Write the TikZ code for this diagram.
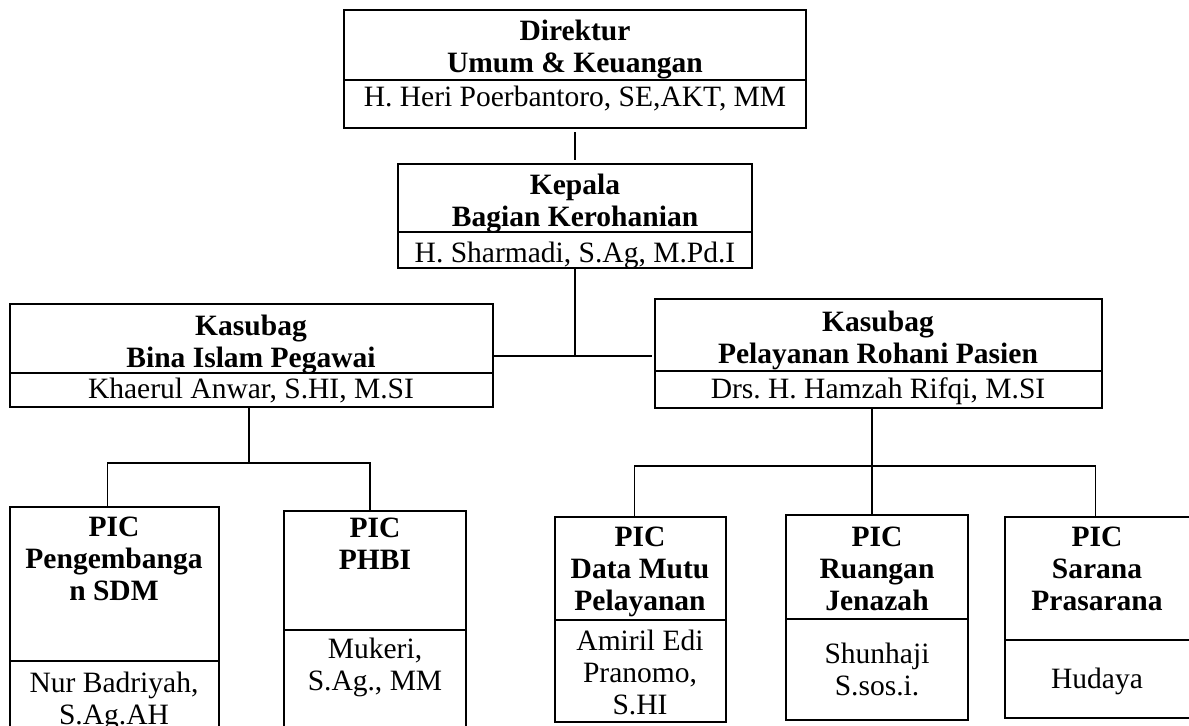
\documentclass[tikz,border=0pt]{standalone}
\usepackage{fontspec}
\setmainfont{Liberation Serif}
\usetikzlibrary{calc,fit}
\newcommand{\pxsize}{0.02}
\newcommand{\orgcell}[5]{\node[cell, fit={(#2,#3) (#4,#5)}] (#1) {};}

\tikzset{
  cell/.style={draw, line width=1.2pt, inner sep=0pt, outer sep=0pt},
  head/.style={font=\fontsize{16.8}{18.2}\selectfont\bfseries, align=center, inner sep=0pt, anchor=north},
  who/.style={font=\fontsize{16.8}{18.2}\selectfont, align=center, inner sep=0pt, anchor=north},
  link/.style={line width=0.8pt},
}

\begin{document}
\begin{tikzpicture}[x=\pxsize cm, y=-\pxsize cm]
  \useasboundingbox (0,0) rectangle (1189,725);
  \clip (0,0) rectangle (1189,725);

  % direktur + kepala
  \orgcell{dir}{344}{10}{806}{80}
  \orgcell{dirp}{344}{80}{806}{128}
  \node[head] (dirT) at (575,20) {Direktur\\Umum \& Keuangan};
  \node[who] (dirN) at (575,86) {H. Heri Poerbantoro, SE,AKT, MM};

  \orgcell{kep}{398}{164}{752}{232}
  \orgcell{kepp}{398}{232}{752}{268}
  \node[head] (kepT) at (575,174) {Kepala\\Bagian Kerohanian};
  \node[who] (kepN) at (575,242) {H. Sharmadi, S.Ag, M.Pd.I};

  % kasubag
  \orgcell{bina}{10}{304}{493}{373}
  \orgcell{binap}{10}{373}{493}{407}
  \node[head] (binaT) at (251,315) {Kasubag\\Bina Islam Pegawai};
  \node[who] (binaN) at (251,378) {Khaerul Anwar, S.HI, M.SI};

  \orgcell{pel}{655}{299}{1102}{371}
  \orgcell{pelp}{655}{371}{1102}{408}
  \node[head] (pelT) at (878,311) {Kasubag\\Pelayanan Rohani Pasien};
  \node[who] (pelN) at (878,377) {Drs.\ H. Hamzah Rifqi, M.SI};

  % PIC
  \orgcell{sdm}{10}{507}{219}{661}
  \orgcell{sdmp}{10}{661}{219}{740}
  \node[head] (sdmT) at (114,517) {PIC\\Pengembanga\\n SDM};
  \node[who] (sdmN) at (114,672) {Nur Badriyah,\\S.Ag.AH};

  \orgcell{phbi}{284}{511}{466}{630}
  \orgcell{phbip}{284}{630}{466}{740}
  \node[head] (phbiT) at (375,518) {PIC\\PHBI};
  \node[who] (phbiN) at (375,638) {Mukeri,\\S.Ag., MM};

  \orgcell{mutu}{555}{517}{726}{620}
  \orgcell{mutup}{555}{620}{726}{722}
  \node[head] (mutuT) at (640,527) {PIC\\Data Mutu\\Pelayanan};
  \node[who] (mutuN) at (640,630) {Amiril Edi\\Pranomo,\\S.HI};

  \orgcell{jnz}{786}{515}{968}{619}
  \orgcell{jnzp}{786}{619}{968}{720}
  \node[head] (jnzT) at (877,527) {PIC\\Ruangan\\Jenazah};
  \node[who] (jnzN) at (877,643) {Shunhaji\\S.sos.i.};

  \orgcell{sarana}{1005}{517}{1192}{640}
  \orgcell{saranap}{1005}{640}{1192}{718}
  \node[head] (saranaT) at (1097,527) {PIC\\Sarana\\Prasarana};
  \node[who] (saranaN) at (1097,668) {Hudaya};

  % lines
  \coordinate (mid) at (575,356);
  \coordinate (lbus) at (249,463);
  \coordinate (rbus) at (872,466);
  \draw[link, shorten <=2.5pt, shorten >=2pt] (dirp.south) -- (kep.north);
  \draw[link] (kepp.south) -- (mid);
  \draw[link, shorten >=1.5pt] (mid -| bina.east) -- (mid -| pel.west);

  \draw[link] (lbus |- binap.south) -- (lbus);
  \draw[link] ($(sdm.north)+(-7,0)$) |- (lbus) -| ($(phbi.north)+(-5,0)$);

  \draw[link] (rbus |- pelp.south) -- (rbus);
  \draw[link] ($(mutu.north)+(-6,0)$) |- (rbus) -| ($(sarana.north)+(-3,0)$);
  \draw[link] (rbus) -- (rbus |- jnz.north);
\end{tikzpicture}
\end{document}
